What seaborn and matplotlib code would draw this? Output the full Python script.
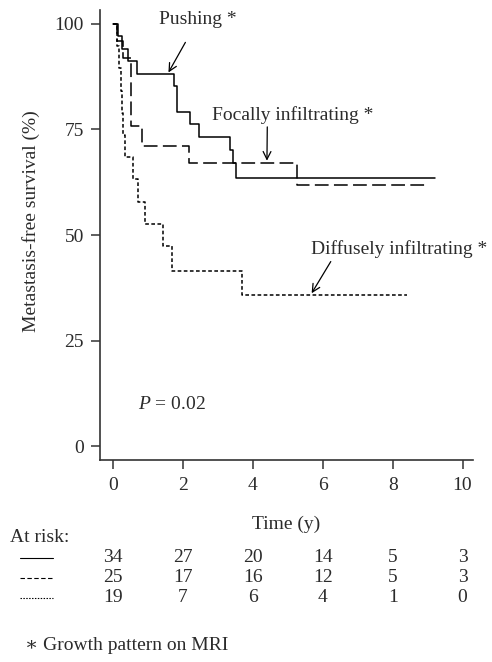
import numpy as np
import pandas as pd
import matplotlib
matplotlib.use("Agg")
import matplotlib.pyplot as plt
import seaborn as sns
from matplotlib.lines import Line2D
from matplotlib.transforms import blended_transform_factory

# ============================================================
# DATA
# ============================================================
push_t = [0.0, 0.14, 0.24, 0.43, 0.69, 1.75, 1.83, 2.19, 2.45, 3.35, 3.44, 3.52, 9.22]
push_s = [100, 97.1, 94.1, 91.2, 88.2, 85.3, 79.2, 76.2, 73.2, 70.1, 67.1, 63.5, 63.5]

focal_t = [0.0, 0.10, 0.28, 0.50, 0.81, 2.17, 5.25, 8.93]
focal_s = [100, 96.0, 92.0, 75.8, 71.2, 67.0, 61.8, 61.8]

diffuse_t = [0.0, 0.12, 0.16, 0.21, 0.25, 0.29, 0.33, 0.57, 0.72, 0.91, 1.43, 1.67, 3.68, 8.40]
diffuse_s = [100, 94.7, 89.5, 84.2, 78.9, 73.7, 68.4, 63.2, 57.9, 52.6, 47.4, 41.4, 35.7, 35.7]

risk_times = [0, 2, 4, 6, 8, 10]
risk_push = [34, 27, 20, 14, 5, 3]
risk_focal = [25, 17, 16, 12, 5, 3]
risk_diffuse = [19, 7, 6, 4, 1, 0]

groups = ["Pushing", "Focally infiltrating", "Diffusely infiltrating"]

df = pd.concat([
    pd.DataFrame({"time": push_t, "surv": push_s, "group": groups[0]}),
    pd.DataFrame({"time": focal_t, "surv": focal_s, "group": groups[1]}),
    pd.DataFrame({"time": diffuse_t, "surv": diffuse_s, "group": groups[2]}),
])

# ============================================================
# STYLE
# ============================================================
sns.set_style("white")
plt.rcParams["font.family"] = ["Liberation Serif", "DejaVu Serif"]
plt.rcParams["mathtext.fontset"] = "custom"
plt.rcParams["mathtext.rm"] = "Liberation Serif"
plt.rcParams["mathtext.it"] = "Liberation Serif:italic"
FS = 14
TXT = "#2b2b2b"
W, H = 492, 662

fig = plt.figure(figsize=(W / 100, H / 100), dpi=100)
ax = fig.add_axes([100 / W, 1 - 460 / H, 373 / W, 450 / H])

dash_styles = {groups[0]: "", groups[1]: (9, 3.5), groups[2]: (2.4, 1.6)}
sns.lineplot(data=df, x="time", y="surv", style="group", dashes=dash_styles,
             color="black", linewidth=1.1, drawstyle="steps-post",
             estimator=None, legend=False, ax=ax)

ax.set_xlim(-0.38, 10.3)
ax.set_ylim(-3.3, 103.3)
ax.set_xticks(risk_times)
ax.set_yticks([0, 25, 50, 75, 100])
for s in ["top", "right"]:
    ax.spines[s].set_visible(False)
for s in ["left", "bottom"]:
    ax.spines[s].set_color("#333333")
    ax.spines[s].set_linewidth(1.2)
ax.tick_params(axis="both", direction="out", length=6.5, width=1.1, colors="#333333",
               labelcolor=TXT, labelsize=FS, pad=5, bottom=True, left=True)
ax.tick_params(axis="x", pad=6)
ax.set_xlabel("Time (y)", color=TXT, fontsize=FS, labelpad=15)
ax.set_ylabel("Metastasis-free survival (%)", color=TXT, fontsize=FS)
ax.yaxis.set_label_coords(-0.16, 0.53)

# annotations
arrow = dict(arrowstyle="->", color="black", lw=0.9, mutation_scale=14)
ax.annotate("Pushing *", xy=(1.58, 88.5), xytext=(2.43, 101.0), ha="center", va="center",
            color=TXT, fontsize=FS, arrowprops=dict(arrow, shrinkA=9, shrinkB=0))
ax.annotate("Focally infiltrating *", xy=(4.40, 67.6), xytext=(5.15, 78.5), ha="center",
            va="center", color=TXT, fontsize=FS,
            arrowprops=dict(arrow, shrinkA=0, shrinkB=0, relpos=(0.34, 0.0)))
ax.annotate("Diffusely infiltrating *", xy=(5.68, 36.2), xytext=(10.7, 46.6), ha="right",
            va="center", color=TXT, fontsize=FS, annotation_clip=False,
            arrowprops=dict(arrow, shrinkA=0, shrinkB=0, relpos=(0.125, 0.0)))
ax.text(0.7, 9.9, "$P$ = 0.02", color=TXT, fontsize=FS, va="center", ha="left")

# ============================================================
# AT-RISK TABLE
# ============================================================
tr = blended_transform_factory(ax.transData, fig.transFigure)
fig.text(10 / W, 1 - 537 / H, "At risk:", color=TXT, fontsize=FS, va="center", ha="left")
rows = [(risk_push, 558, None), (risk_focal, 578, (4, 2.2)), (risk_diffuse, 598, (1.3, 1.3))]
for counts, py, dsh in rows:
    ln = Line2D([20 / W, 53 / W], [1 - py / H, 1 - py / H], color="black", lw=0.8,
                transform=fig.transFigure)
    if dsh is not None:
        ln.set_dashes(dsh)
    fig.add_artist(ln)
    for t, n in zip(risk_times, counts):
        ax.text(t, 1 - py / H, str(n), transform=tr, ha="center", va="center",
                color=TXT, fontsize=FS, clip_on=False)

fig.text(25 / W, 1 - 645 / H, "\u2217 Growth pattern on MRI", color=TXT, fontsize=FS,
         va="center", ha="left")

fig.savefig("out.png", dpi=100)
